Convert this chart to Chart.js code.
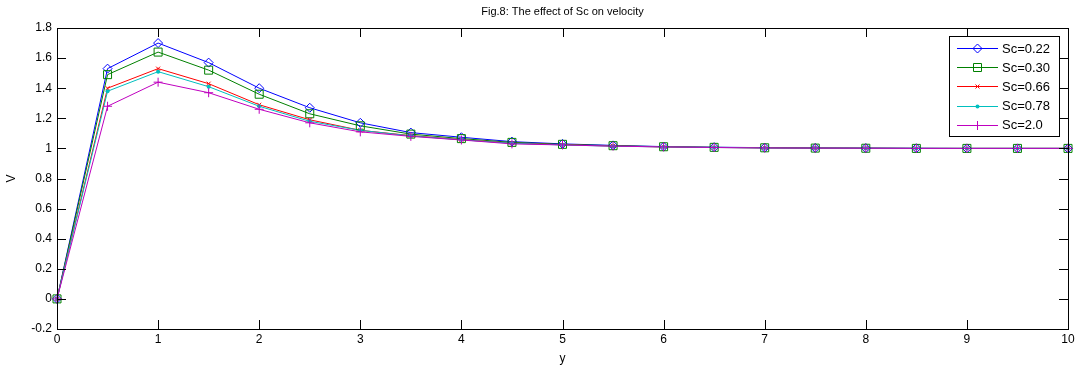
<!DOCTYPE html>
<html>
<head>
<meta charset="utf-8">
<script src="https://cdn.jsdelivr.net/npm/chart.js@4.4.1/dist/chart.umd.min.js"></script>
<style>
html,body{margin:0;padding:0;background:#fff;}
#wrap{width:1078px;height:369px;position:relative;}
</style>
</head>
<body>
<div id="wrap"><canvas id="c" width="1078" height="369"></canvas></div>
<script>
const titleText = "Fig.8: The effect of Sc on velocity";
const xLabel = "y";
const yLabel = "V";
const xValues = [0,0.5,1,1.5,2,2.5,3,3.5,4,4.5,5,5.5,6,6.5,7,7.5,8,8.5,9,9.5,10];
const xTicks = [0,1,2,3,4,5,6,7,8,9,10];
const yTicks = [-0.2,0,0.2,0.4,0.6,0.8,1,1.2,1.4,1.6,1.8];
const seriesNames = ["Sc=0.22","Sc=0.30","Sc=0.66","Sc=0.78","Sc=2.0"];
const sc022 = [0,1.53,1.70,1.57,1.40,1.27,1.17,1.105,1.074,1.045,1.03,1.02,1.012,1.008,1.005,1.003,1.002,1.001,1.0,1.0,1.0];
const sc030 = [0,1.49,1.64,1.52,1.36,1.23,1.15,1.095,1.065,1.04,1.027,1.018,1.011,1.007,1.004,1.002,1.001,1.0,1.0,1.0,1.0];
const sc066 = [0,1.40,1.53,1.43,1.29,1.19,1.12,1.085,1.058,1.035,1.024,1.016,1.01,1.006,1.004,1.002,1.001,1.0,1.0,1.0,1.0];
const sc078 = [0,1.38,1.51,1.41,1.28,1.18,1.12,1.083,1.057,1.034,1.023,1.015,1.01,1.006,1.003,1.002,1.001,1.0,1.0,1.0,1.0];
const sc200 = [0,1.28,1.44,1.37,1.26,1.17,1.11,1.08,1.056,1.03,1.023,1.015,1.01,1.006,1.003,1.002,1.001,1.0,1.0,1.0,1.0];

const FONT = "'Liberation Sans', Arial, sans-serif";
const colors = ["#0000ff","#008000","#ff0000","#00bfbf","#bf00bf"];
const markers = ["diamond","square","x","dot","plus"];
const allSeries = [sc022,sc030,sc066,sc078,sc200];

function drawMarker(ctx, type, x, y, color){
  ctx.save();
  ctx.strokeStyle = color; ctx.fillStyle = color; ctx.lineWidth = 1;
  ctx.beginPath();
  if(type==="diamond"){ const r=4.5; ctx.moveTo(x,y-r);ctx.lineTo(x+r,y);ctx.lineTo(x,y+r);ctx.lineTo(x-r,y);ctx.closePath();ctx.stroke(); }
  else if(type==="square"){ const r=4; ctx.rect(x-r,y-r,2*r,2*r); ctx.stroke(); }
  else if(type==="x"){ const r=2; ctx.moveTo(x-r,y-r);ctx.lineTo(x+r,y+r);ctx.moveTo(x+r,y-r);ctx.lineTo(x-r,y+r);ctx.stroke(); }
  else if(type==="dot"){ ctx.arc(x,y,2,0,Math.PI*2); ctx.fill(); }
  else if(type==="plus"){ const r=4.5; ctx.moveTo(x-r,y);ctx.lineTo(x+r,y);ctx.moveTo(x,y-r);ctx.lineTo(x,y+r);ctx.stroke(); }
  ctx.restore();
}

const datasets = seriesNames.map((name,i)=>({
  label: name,
  data: xValues.map((x,j)=>({x:x,y:allSeries[i][j]})),
  borderColor: colors[i],
  backgroundColor: colors[i],
  borderWidth: 1,
  pointRadius: 0,
  tension: 0,
  clip: false,
  order: 4-i,
  marker: markers[i]
}));

const decor = {
  id:'decor',
  afterDatasetsDraw(chart){
    const ctx = chart.ctx, a = chart.chartArea;
    const xs = chart.scales.x, ys = chart.scales.y;
    // markers
    chart.data.datasets.forEach((ds,i)=>{
      ds.data.forEach(p=>{
        drawMarker(ctx, ds.marker, xs.getPixelForValue(p.x), ys.getPixelForValue(p.y), ds.borderColor);
      });
    });
  },
  afterDraw(chart){
    const ctx = chart.ctx, a = chart.chartArea;
    const xs = chart.scales.x, ys = chart.scales.y;
    ctx.save();
    ctx.strokeStyle = '#000'; ctx.lineWidth = 1;
    ctx.strokeRect(Math.round(a.left)+0.5, Math.round(a.top)+0.5, Math.round(a.right-a.left), Math.round(a.bottom-a.top));
    const tl = 9;
    ctx.beginPath();
    xTicks.forEach(v=>{
      const px = Math.round(xs.getPixelForValue(v))+0.5;
      ctx.moveTo(px,a.bottom); ctx.lineTo(px,a.bottom-tl);
      ctx.moveTo(px,a.top); ctx.lineTo(px,a.top+tl);
    });
    yTicks.forEach(v=>{
      const py = Math.round(ys.getPixelForValue(v))+0.5;
      ctx.moveTo(a.left,py); ctx.lineTo(a.left+tl,py);
      ctx.moveTo(a.right,py); ctx.lineTo(a.right-tl,py);
    });
    ctx.stroke();
    // title
    ctx.fillStyle = '#000';
    ctx.font = "11px " + FONT;
    ctx.textAlign = 'center'; ctx.textBaseline = 'middle';
    ctx.fillText(titleText, (a.left+a.right)/2, 12);
    // legend
    const lw = 110, lh = 100;
    const lx = Math.round(a.right - 9 - lw), ly = Math.round(a.top + 8);
    ctx.fillStyle = '#fff';
    ctx.fillRect(lx, ly, lw, lh);
    ctx.strokeStyle = '#000';
    ctx.strokeRect(lx+0.5, ly+0.5, lw, lh);
    ctx.font = "13px " + FONT;
    ctx.textAlign = 'left';
    chart.data.datasets.forEach((ds,i)=>{
      const y = ly + 12 + i*19.2;
      ctx.strokeStyle = ds.borderColor; ctx.lineWidth = 1;
      ctx.beginPath(); ctx.moveTo(lx+8, Math.round(y)+0.5); ctx.lineTo(lx+49, Math.round(y)+0.5); ctx.stroke();
      drawMarker(ctx, ds.marker, lx+28.5, Math.round(y)+0.5, ds.borderColor);
      ctx.fillStyle = '#000';
      ctx.fillText(ds.label, lx+53, y+1);
    });
    ctx.restore();
  }
};

new Chart(document.getElementById('c'), {
  type: 'line',
  data: { datasets: datasets },
  options: {
    responsive: false,
    animation: false,
    layout: { padding: { top: 28, right: 10, left: 0, bottom: 0 } },
    plugins: { legend: { display: false }, title: { display: false }, tooltip: { enabled: false } },
    scales: {
      x: {
        type: 'linear', min: 0, max: 10,
        afterBuildTicks: s => { s.ticks = xTicks.map(v=>({value:v})); },
        afterFit: s => { s.height = 40; },
        grid: { display: false, drawTicks: false },
        border: { display: false },
        ticks: { color: '#000', font: { family: FONT, size: 12 }, padding: 3, maxRotation: 0, autoSkip: false, callback: v => String(v) },
        title: { display: true, text: xLabel, color: '#000', font: { family: FONT, size: 12 }, padding: { top: 0, bottom: 3 } }
      },
      y: {
        type: 'linear', min: -0.2, max: 1.8,
        afterBuildTicks: s => { s.ticks = yTicks.map(v=>({value:v})); },
        afterFit: s => { s.width = 57; },
        grid: { display: false, drawTicks: false },
        border: { display: false },
        ticks: { color: '#000', font: { family: FONT, size: 12 }, padding: 5, autoSkip: false, callback: v => String(Math.round(v*10)/10) },
        title: { display: true, text: yLabel, color: '#000', font: { family: FONT, size: 12 }, padding: { top: 4, bottom: 0 } }
      }
    }
  },
  plugins: [decor]
});
</script>
</body>
</html>
